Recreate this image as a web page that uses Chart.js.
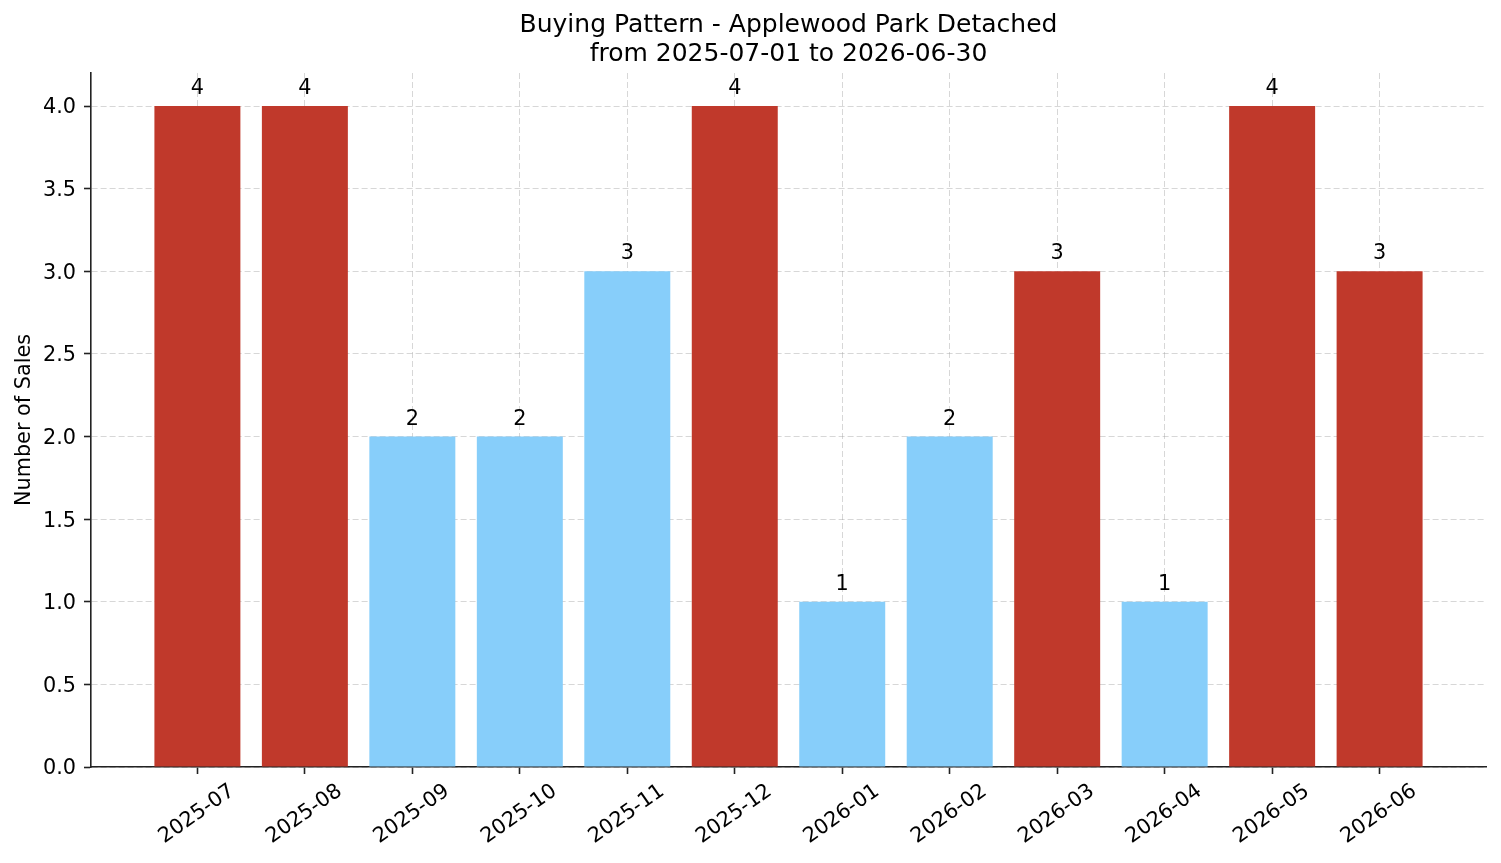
<!DOCTYPE html>
<html>
<head>
<meta charset="utf-8">
<script src="https://cdn.jsdelivr.net/npm/chart.js@4"></script>
<style>
  body { margin: 0; background: #fff; }
  #chart { display: block; }
</style>
</head>
<body>
<canvas id="chart" width="1501" height="863"></canvas>
<script>
// 월별 카테고리
const months = ['2025-07', '2025-08', '2025-09', '2025-10', '2025-11', '2025-12',
                '2026-01', '2026-02', '2026-03', '2026-04', '2026-05', '2026-06'];
// 월별 판매 건수
const sales = [4, 4, 2, 2, 3, 4, 1, 2, 3, 1, 4, 3];
// 강조(빨간 막대) 여부
const hot = [true, true, false, false, false, true, false, false, true, false, true, true];
// y축 눈금
const yTicks = [0, 0.5, 1, 1.5, 2, 2.5, 3, 3.5, 4];

const RED = '#c0392b';
const BLUE = '#87cefa';
const AXIS = '#222222';
const GRID = 'rgba(160,160,160,0.42)';
const FONT = 'DejaVu Sans';

Chart.defaults.font.family = FONT;
Chart.defaults.color = '#000';

// 막대 위 숫자 표시
const barLabels = {
    id: 'barLabels',
    afterDatasetsDraw(chart) {
        const ctx = chart.ctx;
        const meta = chart.getDatasetMeta(0);
        ctx.save();
        ctx.font = '20.8px ' + FONT;
        ctx.fillStyle = '#000';
        ctx.textAlign = 'center';
        ctx.textBaseline = 'alphabetic';
        meta.data.forEach((bar, i) => {
            ctx.fillText(String(sales[i]), bar.x, bar.y - 12);
        });
        ctx.restore();
    }
};

const data = {
    datasets: [{
        data: sales.map((v, i) => ({ x: i, y: v })),
        backgroundColor: hot.map(h => h ? RED : BLUE),
        borderWidth: 0,
        barPercentage: 0.8,
        categoryPercentage: 1.0
    }]
};

const config = {
    type: 'bar',
    data: data,
    options: {
        responsive: false,
        animation: false,
        devicePixelRatio: 1,
        layout: { padding: { left: 0, right: 15, top: 0, bottom: 0 } },
        plugins: {
            legend: { display: false },
            tooltip: { enabled: false },
            title: {
                display: true,
                fullSize: false,
                text: ['Buying Pattern - Applewood Park Detached', 'from 2025-07-01 to 2026-06-30'],
                font: { size: 25, weight: 'normal', lineHeight: 1.16 },
                color: '#000',
                padding: { top: 11, bottom: 4 }
            }
        },
        scales: {
            x: {
                type: 'linear',
                min: -0.99,
                max: 11.99,
                offset: false,
                z: 1,
                afterBuildTicks: scale => {
                    scale.ticks = months.map((m, i) => ({ value: i }));
                },
                afterFit: scale => { scale.height = 96; },
                ticks: {
                    autoSkip: false,
                    minRotation: 35,
                    maxRotation: 35,
                    labelOffset: 35,
                    padding: 5,
                    font: { size: 20.8 },
                    color: '#000',
                    callback: v => months[v]
                },
                grid: {
                    offset: false,
                    color: GRID,
                    lineWidth: 1,
                    tickLength: 7,
                    tickColor: AXIS,
                    tickWidth: 1.6
                },
                border: { color: AXIS, width: 1.6, dash: [6, 3] }
            },
            y: {
                min: 0,
                max: 4.2,
                z: 1,
                afterBuildTicks: scale => {
                    scale.ticks = yTicks.map(v => ({ value: v }));
                },
                afterFit: scale => { scale.width = 91; },
                ticks: {
                    padding: 8,
                    labelOffset: 2,
                    font: { size: 20.8 },
                    color: '#000',
                    callback: v => Number(v).toFixed(1)
                },
                grid: {
                    color: GRID,
                    lineWidth: 1,
                    tickLength: 7,
                    tickColor: AXIS,
                    tickWidth: 1.6
                },
                border: { color: AXIS, width: 1.6, dash: [6, 3] },
                title: {
                    display: true,
                    text: 'Number of Sales',
                    font: { size: 20.8 },
                    color: '#000',
                    padding: { top: 12, bottom: 0 }
                }
            }
        }
    },
    plugins: [barLabels]
};

// 그래프 생성
const salesChart = new Chart(document.getElementById('chart'), config);
</script>
</body>
</html>
